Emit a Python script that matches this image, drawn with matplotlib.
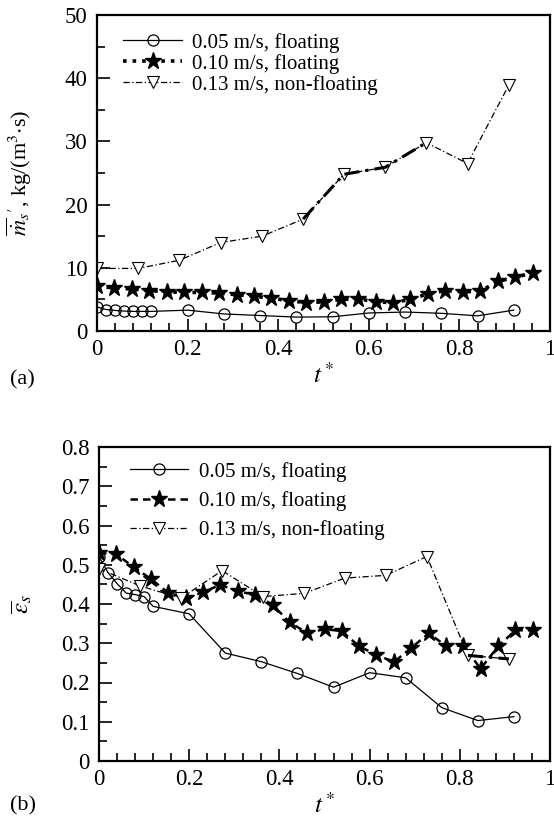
import numpy as np
import matplotlib
matplotlib.use('Agg')
import matplotlib.pyplot as plt
from matplotlib.ticker import MultipleLocator

plt.rcParams['font.family'] = ['Liberation Serif', 'DejaVu Serif']
plt.rcParams['mathtext.fontset'] = 'stix'

# time samples of the three cases
t_low = [0, 0.02, 0.04, 0.06, 0.08, 0.10, 0.12, 0.20, 0.28, 0.36, 0.44, 0.52, 0.60, 0.68, 0.76, 0.84, 0.92]
t_mid = [0, 0.038, 0.077, 0.115, 0.154, 0.192, 0.231, 0.269, 0.308, 0.346, 0.385, 0.423, 0.462,
         0.5, 0.538, 0.577, 0.615, 0.654, 0.692, 0.731, 0.769, 0.808, 0.846, 0.885, 0.923, 0.962]
t_high = [0, 0.091, 0.182, 0.273, 0.364, 0.455, 0.545, 0.636, 0.727, 0.818, 0.909]

# (a) mean mass source
ms_low = [3.8, 3.4, 3.25, 3.15, 3.1, 3.1, 3.1, 3.3, 2.7, 2.45, 2.2, 2.25, 2.85, 3.0, 2.8, 2.4, 3.3]
ms_mid = [7.1, 6.8, 6.65, 6.4, 6.2, 6.1, 6.1, 6.0, 5.75, 5.5, 5.2, 4.8, 4.5,
          4.6, 5.0, 5.1, 4.6, 4.5, 5.0, 5.9, 6.4, 6.2, 6.3, 7.85, 8.5, 9.2]
ms_high = [9.9, 9.9, 11.2, 14.0, 15.0, 17.7, 24.8, 25.9, 29.8, 26.5, 38.9]

# (b) mean solid fraction
eps_low = [0.52, 0.48, 0.452, 0.428, 0.424, 0.419, 0.394, 0.375, 0.275, 0.253, 0.223, 0.188,
           0.225, 0.212, 0.136, 0.103, 0.113]
eps_mid = [0.53, 0.527, 0.494, 0.464, 0.428, 0.415, 0.43, 0.449, 0.432, 0.424, 0.398, 0.353, 0.326,
           0.336, 0.331, 0.292, 0.271, 0.252, 0.288, 0.325, 0.294, 0.294, 0.235, 0.292, 0.333, 0.333]
eps_high = [0.49, 0.446, 0.415, 0.485, 0.419, 0.427, 0.466, 0.473, 0.521, 0.269, 0.26]

labels = ['0.05 m/s, floating', '0.10 m/s, floating', '0.13 m/s, non-floating']

fig = plt.figure(figsize=(5.54, 8.33), dpi=100)
axa = fig.add_axes([97/554, 1-331/833, 453/554, 316/833])
axb = fig.add_axes([99/554, 1-761/833, 451/554, 314/833])

def style(ax, ymax, ymaj, ymin):
    ax.set_xlim(0, 1)
    ax.set_ylim(0, ymax)
    ax.xaxis.set_major_locator(MultipleLocator(0.2))
    ax.xaxis.set_minor_locator(MultipleLocator(0.04))
    ax.yaxis.set_major_locator(MultipleLocator(ymaj))
    ax.yaxis.set_minor_locator(MultipleLocator(ymin))
    ax.xaxis.set_major_formatter('{x:g}')
    ax.yaxis.set_major_formatter('{x:g}')
    ax.tick_params(which='both', direction='in', top=False, right=False, width=1.2, labelsize=16.5)
    ax.tick_params(which='major', length=9)
    ax.tick_params(which='minor', length=5.5)
    ax.tick_params(axis='x', pad=6)
    ax.tick_params(axis='y', pad=7)
    for s in ax.spines.values():
        s.set_linewidth(1.6)
    ax.set_xlabel(r'$t^*$', fontsize=18, labelpad=2)

# panel (a)
axa.plot(t_low, ms_low, '-', color='k', lw=0.9, marker='o', ms=8, mfc='none', mew=0.9, label=labels[0])
axa.plot(t_mid, ms_mid, ':', color='k', lw=2.6, marker='*', ms=12.5, mfc='k', mec='k', label=labels[1])
axa.plot(t_high, ms_high, color='k', lw=0.9, dashes=(5, 2, 1, 2), marker='v', ms=9,
         mfc='white', mew=0.8, label=labels[2])
axa.plot(t_high[5:9], ms_high[5:9], color='k', lw=2.2, dashes=(5, 2, 1, 2))
style(axa, 50, 10, 5)
axa.set_ylabel(r"$\overline{\dot{m}}_s{}'$, kg/(m$^3$$\cdot$s)", fontsize=16)
axa.yaxis.set_label_coords(-0.14, 0.5)
axa.legend(loc='upper left', bbox_to_anchor=(0.04, 0.97), frameon=False, fontsize=15,
           handlelength=2.8, handletextpad=0.5, labelspacing=0.05, borderaxespad=0)

# panel (b)
axb.plot(t_low, eps_low, '-', color='k', lw=0.9, marker='o', ms=8, mfc='none', mew=0.9, label=labels[0])
axb.plot(t_mid, eps_mid, color='k', lw=1.8, dashes=(3, 2), marker='*', ms=12.5, mfc='k', mec='k',
         label=labels[1])
axb.plot(t_high, eps_high, color='k', lw=0.9, dashes=(5, 2, 1, 2), marker='v', ms=9,
         mfc='white', mew=0.8, label=labels[2])
axb.plot(t_high[9:11], eps_high[9:11], color='k', lw=2.2, dashes=(5, 2, 1, 2))
style(axb, 0.8, 0.1, 0.05)
axb.set_ylabel(r'$\overline{\varepsilon}_s$', fontsize=18)
axb.yaxis.set_label_coords(-0.145, 0.5)
axb.legend(loc='upper left', bbox_to_anchor=(0.05, 0.98), frameon=False, fontsize=15,
           handlelength=2.8, handletextpad=0.5, labelspacing=0.45, borderaxespad=0)

fig.text(10/554, 1-380/833, '(a)', fontsize=16, va='center')
fig.text(10/554, 1-806/833, '(b)', fontsize=16, va='center')

fig.savefig('out.png', dpi=100)
